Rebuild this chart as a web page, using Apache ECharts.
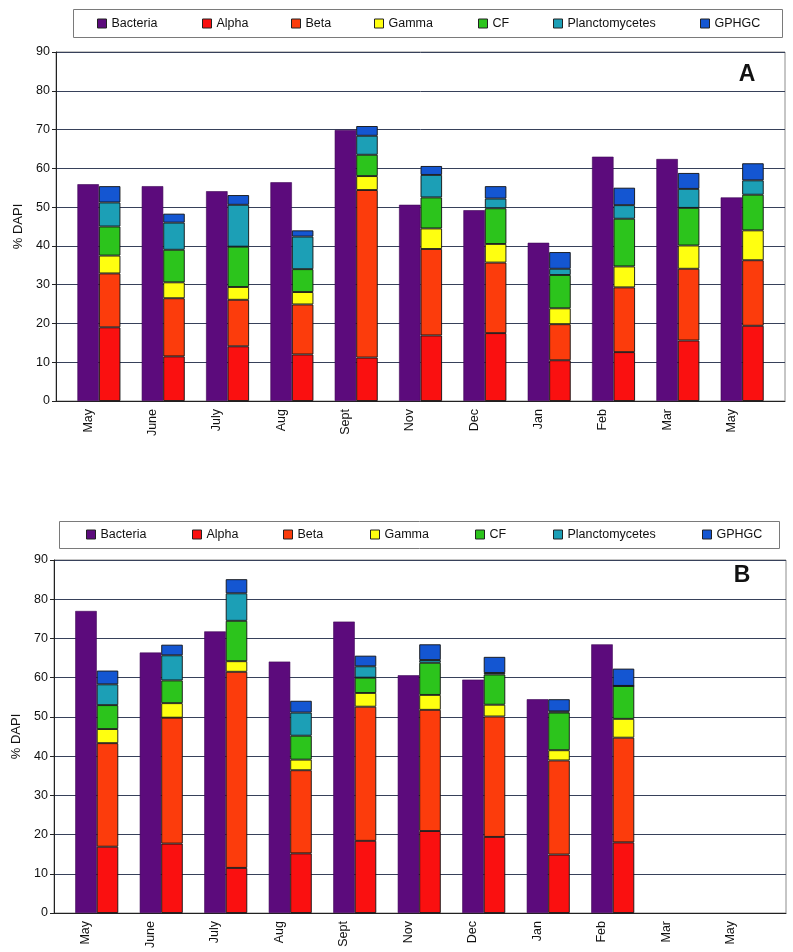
<!DOCTYPE html>
<html>
<head>
<meta charset="utf-8">
<script src="https://cdn.jsdelivr.net/npm/echarts@6/dist/echarts.min.js"></script>
<style>
  html, body { margin: 0; padding: 0; background: #fff; }
  #main { width: 793px; height: 952px; }
</style>
</head>
<body>
<div id="main"></div>
<script>
// months sampled
const months = ['May', 'June', 'July', 'Aug', 'Sept', 'Nov', 'Dec', 'Jan', 'Feb', 'Mar', 'May'];
const yTicks = [0, 10, 20, 30, 40, 50, 60, 70, 80, 90];

// panel A
const bacteriaA = [55.9, 55.4, 54.1, 56.4, 69.9, 50.6, 49.2, 40.8, 63.0, 62.4, 52.5];
const alphaA    = [19.0, 11.5, 14.1, 12.0, 11.2, 16.9, 17.5, 10.5, 12.6, 15.6, 19.4];
const betaA     = [13.9, 15.0, 12.0, 12.9, 43.2, 22.3, 18.2,  9.3, 16.7, 18.5, 16.9];
const gammaA    = [ 4.6,  4.1,  3.3,  3.2,  3.6,  5.3,  4.8,  4.1,  5.4,  6.0,  7.7];
const cfA       = [ 7.5,  8.4, 10.4,  5.9,  5.5,  8.0,  9.2,  8.6, 12.3,  9.7,  9.2];
const plancA    = [ 6.2,  7.0, 10.8,  8.4,  4.9,  5.8,  2.5,  1.6,  3.5,  4.9,  3.7];
const gphgcA    = [ 4.2,  2.3,  2.5,  1.6,  2.5,  2.3,  3.2,  4.3,  4.5,  4.1,  4.4];

// panel B (no samples for Mar / May)
const bacteriaB = [77.0, 66.4, 71.8, 64.1, 74.3, 60.6, 59.5, 54.5, 68.5, null, null];
const alphaB    = [16.9, 17.7, 11.5, 15.2, 18.4, 20.9, 19.4, 14.9, 18.0, null, null];
const betaB     = [26.4, 32.1, 50.0, 21.2, 34.2, 30.9, 30.7, 24.0, 26.7, null, null];
const gammaB    = [ 3.6,  3.7,  2.7,  2.7,  3.5,  3.8,  3.0,  2.6,  4.8, null, null];
const cfB       = [ 6.1,  5.8, 10.3,  6.1,  3.9,  8.2,  7.7,  9.6,  8.4, null, null];
const plancB    = [ 5.3,  6.4,  7.0,  5.9,  2.9,  0.7,  0.4,  0.3,  0.0, null, null];
const gphgcB    = [ 3.5,  2.7,  3.6,  3.0,  2.7,  4.0,  4.1,  3.1,  4.4, null, null];

const names  = ['Bacteria', 'Alpha', 'Beta', 'Gamma', 'CF', 'Planctomycetes', 'GPHGC'];
const colors = ['#5c0b7c', '#fa1010', '#fc3c0c', '#ffff10', '#2cc41c', '#1c9fb6', '#1456d2'];

const FONT = 'Liberation Sans, Arial, sans-serif';

let chart = echarts.init(document.getElementById('main'));

// panel geometry: frame grid + bar grid (bars are shifted, as in the original)
const panels = [
    { top: 52, height: 349, frameLeft: 56, frameWidth: 729, barLeft: 56, barWidth: 707.6,
      data: [bacteriaA, alphaA, betaA, gammaA, cfA, plancA, gphgcA],
      legendX: [97, 202, 291, 374, 478, 553, 700], legendTop: 17,
      box: [73, 9, 709, 28], letter: 'A', letterX: 747, letterY: 75 },
    { top: 560, height: 353, frameLeft: 54, frameWidth: 732, barLeft: 53.75, barWidth: 709.5,
      data: [bacteriaB, alphaB, betaB, gammaB, cfB, plancB, gphgcB],
      legendX: [86, 192, 283, 370, 475, 553, 702], legendTop: 528,
      box: [59, 521, 720, 27], letter: 'B', letterX: 742, letterY: 576 }
];

let grid = [], xAxis = [], yAxis = [], series = [], legend = [], graphic = [];

panels.forEach((p, pi) => {
    // frame grid
    grid.push({ left: p.frameLeft, top: p.top, width: p.frameWidth, height: p.height,
        show: true, borderColor: '#8c8c8c', borderWidth: 1, backgroundColor: '#fff' });
    // bar grid
    grid.push({ left: p.barLeft, top: p.top, width: p.barWidth, height: p.height });

    xAxis.push({ gridIndex: pi * 2, type: 'value', min: 0, max: 1,
        axisLine: { show: true, lineStyle: { color: '#222', width: 1 } },
        axisTick: { show: false }, axisLabel: { show: false }, splitLine: { show: false } });
    xAxis.push({ gridIndex: pi * 2 + 1, type: 'category', data: months,
        axisLine: { show: false }, axisTick: { show: false },
        axisLabel: { rotate: 90, margin: 8, fontSize: 12.5, color: '#111', fontFamily: FONT } });

    yAxis.push({ gridIndex: pi * 2, type: 'value', min: 0, max: 90, interval: 10,
        name: '% DAPI', nameLocation: 'middle', nameRotate: 90, nameGap: 30,
        nameTextStyle: { fontSize: 13, color: '#111', fontFamily: FONT },
        axisLine: { show: true, lineStyle: { color: '#222', width: 1 } },
        axisTick: { show: true, length: 4, lineStyle: { color: '#222' } },
        axisLabel: { fontSize: 12.5, color: '#111', margin: 6, fontFamily: FONT,
            formatter: v => yTicks.includes(v) ? String(v) : '' },
        splitLine: { show: true, lineStyle: { color: '#37415a', width: 1 } } });
    yAxis.push({ gridIndex: pi * 2 + 1, type: 'value', min: 0, max: 90, show: false });

    const xi = pi * 2 + 1;
    // empty slot on the left so Bacteria sits on the tick
    series.push({ type: 'bar', name: 'pad' + pi, xAxisIndex: xi, yAxisIndex: xi,
        data: [], barWidth: 21.5, barGap: '0%' });
    series.push({ type: 'bar', name: names[0], xAxisIndex: xi, yAxisIndex: xi,
        data: p.data[0], barWidth: 21.5, barGap: '0%',
        itemStyle: { color: colors[0], borderColor: '#3e0656', borderWidth: 0.6 } });
    for (let i = 1; i < names.length; i++) {
        series.push({ type: 'bar', name: names[i], stack: 'probes' + pi,
            xAxisIndex: xi, yAxisIndex: xi, data: p.data[i], barWidth: 21.5, barGap: '0%',
            itemStyle: { color: colors[i], borderColor: '#111', borderWidth: 0.9 } });
    }

    graphic.push({ type: 'rect', left: p.box[0], top: p.box[1], z: -1,
        shape: { width: p.box[2], height: p.box[3] },
        style: { fill: '#fff', stroke: '#7a7a7a', lineWidth: 1 } });
    graphic.push({ type: 'text', x: p.letterX, y: p.letterY, z: 10,
        style: { text: p.letter, fontSize: 23, fontWeight: 'bold', fontFamily: FONT,
            fill: '#111', align: 'center', verticalAlign: 'middle' } });

    names.forEach((n, i) => {
        legend.push({ data: [{ name: n, icon: 'rect' }], left: p.legendX[i], top: p.legendTop,
            itemWidth: 9, itemHeight: 9, itemGap: 0, padding: 0, selectedMode: false,
            itemStyle: { borderColor: '#222', borderWidth: 1 },
            textStyle: { fontSize: 12.5, color: '#111', fontFamily: FONT, padding: [0, 0, 0, 0] } });
    });
});

chart.setOption({
    backgroundColor: '#fff',
    animation: false,
    textStyle: { fontFamily: FONT },
    grid: grid,
    xAxis: xAxis,
    yAxis: yAxis,
    legend: legend,
    graphic: graphic,
    series: series
});
</script>
</body>
</html>
